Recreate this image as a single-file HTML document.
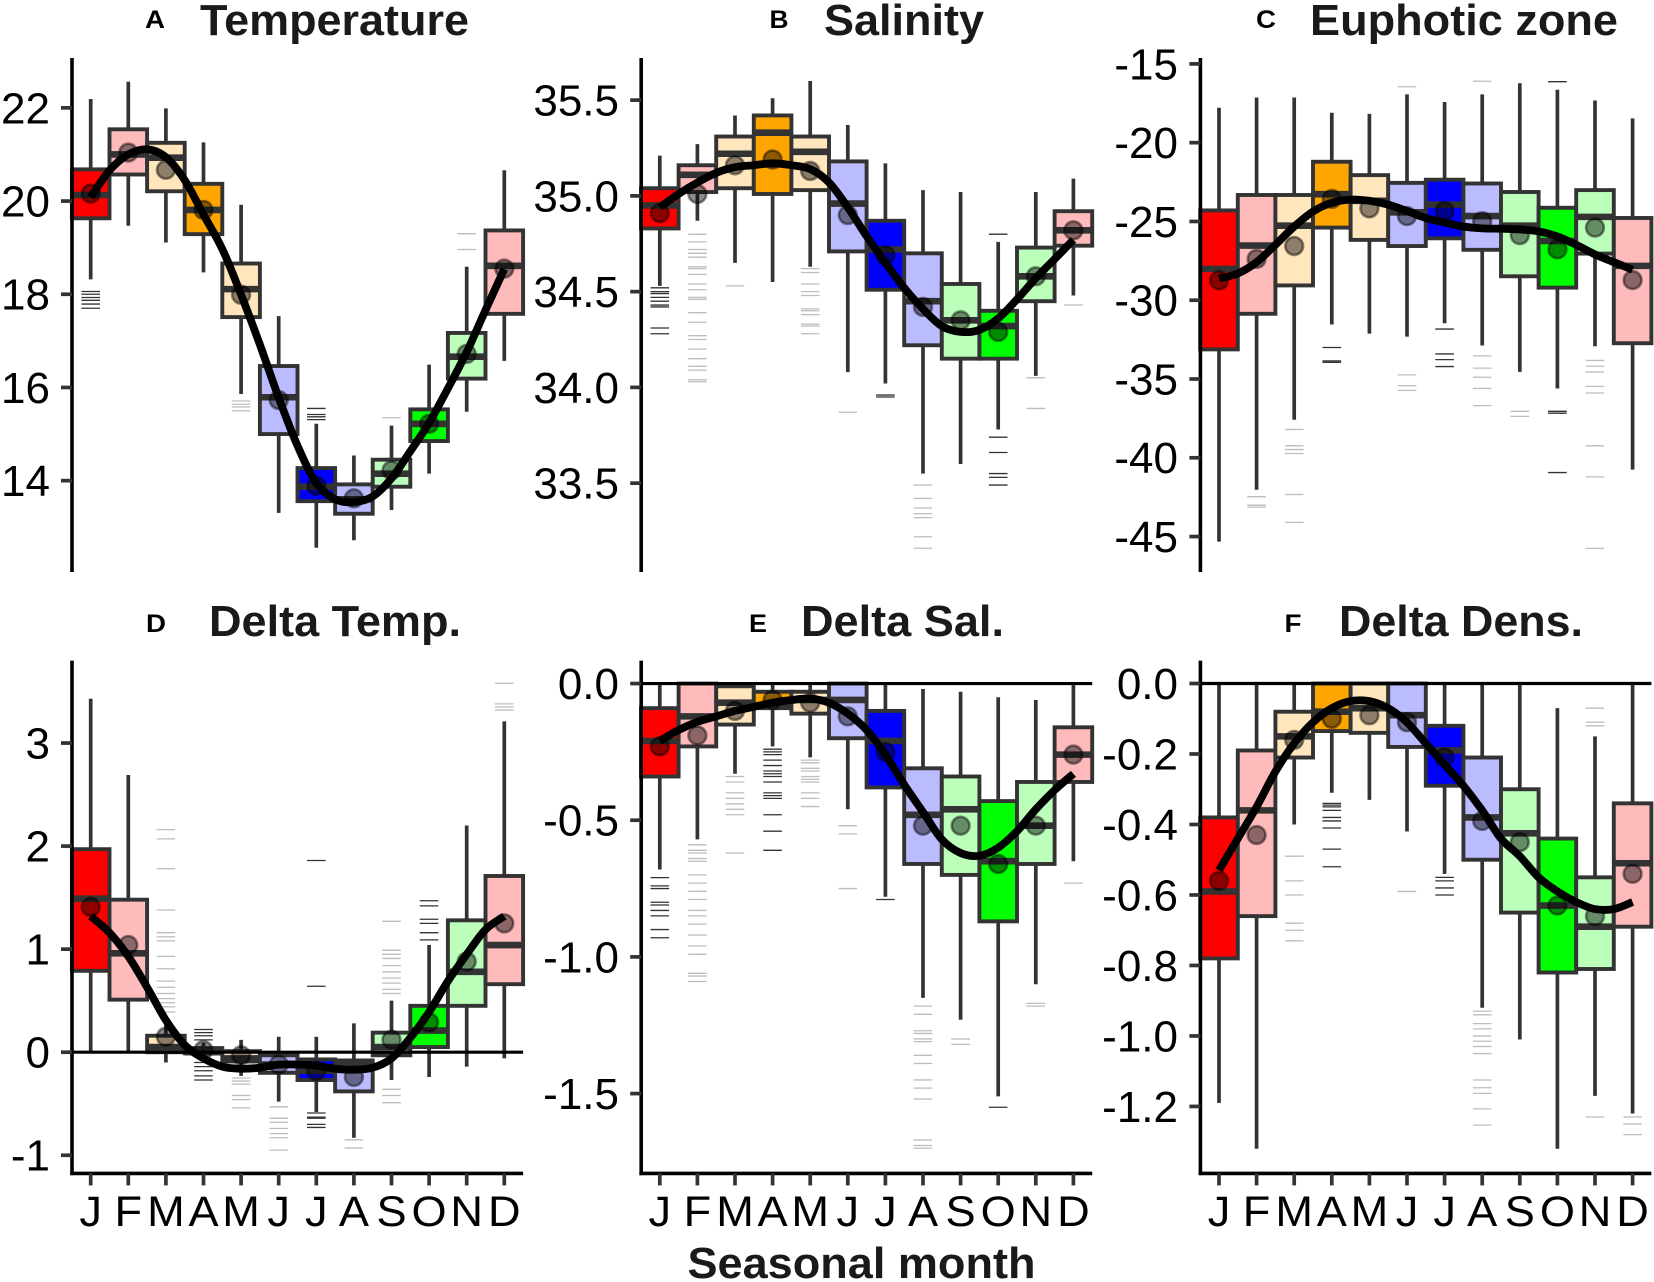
<!DOCTYPE html>
<html lang="en">
<head>
<meta charset="utf-8">
<title>Seasonal boxplots</title>
<style>
html,body{margin:0;padding:0;background:#fff;}
svg{display:block;font-family:"Liberation Sans",Arial,sans-serif;}
.title{font-weight:bold;font-size:44px;fill:#1a1a1a;text-anchor:middle;}
.tag{font-weight:bold;font-size:25px;fill:#000;text-anchor:middle;}
</style>
</head>
<body>
<svg id="chart" width="1654" height="1282" viewBox="0 0 1654 1282" xmlns="http://www.w3.org/2000/svg">
<text class="tag" x="155" y="28" textLength="20" lengthAdjust="spacingAndGlyphs">A</text>
<text class="title" x="334.5" y="35" textLength="269" lengthAdjust="spacingAndGlyphs">Temperature</text>
<text class="tag" x="779" y="28" textLength="19" lengthAdjust="spacingAndGlyphs">B</text>
<text class="title" x="904" y="35" textLength="160" lengthAdjust="spacingAndGlyphs">Salinity</text>
<text class="tag" x="1266" y="28" textLength="20" lengthAdjust="spacingAndGlyphs">C</text>
<text class="title" x="1464" y="35" textLength="308" lengthAdjust="spacingAndGlyphs">Euphotic zone</text>
<text class="tag" x="156" y="632" textLength="20" lengthAdjust="spacingAndGlyphs">D</text>
<text class="title" x="335" y="636" textLength="252" lengthAdjust="spacingAndGlyphs">Delta Temp.</text>
<text class="tag" x="758" y="632" textLength="18" lengthAdjust="spacingAndGlyphs">E</text>
<text class="title" x="902.5" y="636" textLength="203" lengthAdjust="spacingAndGlyphs">Delta Sal.</text>
<text class="tag" x="1293" y="632" textLength="17" lengthAdjust="spacingAndGlyphs">F</text>
<text class="title" x="1461" y="636" textLength="244" lengthAdjust="spacingAndGlyphs">Delta Dens.</text>
<text class="title" x="861.5" y="1278" textLength="348" lengthAdjust="spacingAndGlyphs">Seasonal month</text>
</svg>
<script>
const months=['J','F','M','A','M','J','J','A','S','O','N','D'];
const monthFills=['#ff0000','#ffbbbb','#ffe6bd','#ffa500','#ffe6bd','#bbbbff','#0000ff','#bbbbff','#bbffbb','#00ff00','#bbffbb','#ffbbbb'];

/* A: Temperature */
const tempTicks=[14,16,18,20,22];
const tempTickLabels=['14','16','18','20','22'];
const tempHi=[22.19,22.56,21.99,21.26,19.92,17.53,15.22,14.54,15.18,16.49,18.59,20.66];
const tempQ3=[20.68,21.54,21.25,20.37,18.66,16.46,14.27,13.92,14.45,15.53,17.17,19.37];
const tempMed=[20.13,21.0,20.93,19.81,18.11,15.79,13.87,13.6,14.15,15.22,16.66,18.61];
const tempQ1=[19.63,20.57,20.21,19.29,17.51,15.0,13.56,13.29,13.87,14.85,16.19,17.58];
const tempLo=[18.32,19.47,19.11,18.47,15.86,13.31,12.56,12.72,13.37,14.15,15.48,16.57];
const tempMean=[20.16,21.04,20.67,19.81,17.99,15.73,13.89,13.62,14.22,15.22,16.72,18.55];
const tempSmooth=[20.08,20.66,21.0,21.11,20.94,20.45,19.71,18.97,17.99,16.92,15.78,14.75,13.95,13.6,13.54,13.66,14.05,14.63,15.24,15.98,16.76,17.66,18.54];
const tempOutliers=[[18.06,18.0,17.93,17.87,17.79,17.7],[],[],[],[15.71,15.64,15.58,15.5],[],[15.55,15.42,15.37,15.31],[],[15.35],[],[19.3,18.96],[]];

/* B: Salinity */
const salTicks=[33.5,34,34.5,35,35.5];
const salTickLabels=['33.5','34.0','34.5','35.0','35.5'];
const salHi=[35.21,35.27,35.42,35.51,35.6,35.37,35.17,35.03,35.02,34.76,35.02,35.09];
const salQ3=[35.04,35.16,35.31,35.42,35.31,35.18,34.87,34.7,34.54,34.4,34.73,34.92];
const salMed=[34.95,35.11,35.22,35.33,35.23,34.96,34.72,34.45,34.35,34.32,34.58,34.82];
const salQ1=[34.83,35.02,35.04,35.01,35.03,34.71,34.51,34.22,34.15,34.15,34.45,34.74];
const salLo=[34.53,34.87,34.65,34.55,34.63,34.08,34.02,33.55,33.6,33.78,34.06,34.48];
const salMean=[34.91,35.01,35.16,35.19,35.13,34.9,34.69,34.42,34.35,34.29,34.58,34.82];
const salSmooth=[34.94,35.01,35.07,35.12,35.15,35.16,35.17,35.16,35.14,35.07,34.94,34.79,34.65,34.52,34.41,34.32,34.29,34.3,34.36,34.46,34.57,34.67,34.77];
const salOutliers=[[34.52,34.5,34.49,34.47,34.45,34.43,34.42,34.31,34.28],[34.8,34.76,34.72,34.7,34.68,34.63,34.62,34.59,34.54,34.51,34.47,34.46,34.39,34.34,34.27,34.25,34.2,34.15,34.11,34.09,34.04,34.03],[34.53],[],[34.62,34.6,34.54,34.5,34.48,34.41,34.4,34.38,34.33,34.32,34.28],[33.87],[33.96,33.95],[33.49,33.42,33.37,33.34,33.32,33.22,33.16],[],[34.8,33.74,33.66,33.55,33.53,33.49],[34.05,33.89],[34.43]];

/* C: Euphotic zone */
const euphTicks=[-45,-40,-35,-30,-25,-20,-15];
const euphTickLabels=['-45','-40','-35','-30','-25','-20','-15'];
const euphHi=[-17.78,-17.13,-17.13,-18.1,-18.17,-16.93,-17.42,-16.93,-16.23,-16.64,-17.32,-18.46];
const euphQ3=[-24.3,-23.32,-23.32,-21.21,-22.06,-22.55,-22.35,-22.59,-23.13,-24.13,-23.01,-24.78];
const euphMed=[-28.01,-26.53,-25.27,-23.27,-23.69,-24.42,-23.93,-24.66,-25.27,-26.24,-24.71,-27.82];
const euphQ1=[-33.12,-30.86,-29.06,-25.39,-26.17,-26.56,-26.07,-26.8,-28.48,-29.2,-27.04,-32.73];
const euphLo=[-45.32,-42.03,-37.59,-31.54,-32.12,-32.31,-31.46,-32.87,-34.55,-35.6,-32.92,-40.75];
const euphMean=[-28.74,-27.38,-26.56,-23.57,-24.17,-24.66,-24.34,-24.98,-25.87,-26.77,-25.39,-28.72];
const euphSmooth=[-28.62,-28.3,-27.58,-26.48,-25.32,-24.37,-23.81,-23.61,-23.69,-23.93,-24.34,-24.78,-25.07,-25.32,-25.44,-25.46,-25.51,-25.63,-25.95,-26.48,-27.09,-27.58,-28.06];
const euphOutliers=[[],[-42.47,-43.01,-43.13],[-38.2,-39.24,-39.48,-39.73,-42.33,-44.1],[-33,-33.85,-33.94],[],[-16.45,-34.74,-35.43,-35.72],[-31.83,-33.41,-33.77,-34.21],[-16.1,-33.53,-34.31,-34.89,-35.6,-36.69],[-37.05,-37.37],[-16.13,-37.05,-37.17,-40.94],[-33.82,-34.19,-34.55,-35.47,-35.89,-39.24,-41.21,-45.75],[]];

/* D: Delta Temp. */
const dtTicks=[-1,0,1,2,3];
const dtTickLabels=['-1','0','1','2','3'];
const dtHi=[3.43,2.69,0.27,0.09,0.12,0.15,0.15,0.28,0.5,1.04,2.2,3.21];
const dtQ3=[1.97,1.48,0.16,0.04,0.01,-0.03,-0.07,-0.08,0.19,0.45,1.28,1.71];
const dtMed=[1.49,0.96,0.05,0,-0.06,-0.12,-0.18,-0.12,0.05,0.21,0.78,1.04];
const dtQ1=[0.79,0.51,0,-0.01,-0.09,-0.2,-0.27,-0.38,-0.03,0.05,0.45,0.66];
const dtLo=[0,0,-0.1,-0.08,-0.23,-0.48,-0.58,-0.83,-0.27,-0.24,-0.14,-0.06];
const dtMean=[1.41,1.04,0.15,0.02,-0.03,-0.12,-0.18,-0.24,0.12,0.29,0.88,1.25];
const dtSmooth=[1.32,1.16,0.93,0.63,0.31,0.07,-0.06,-0.14,-0.16,-0.15,-0.12,-0.12,-0.13,-0.16,-0.17,-0.15,-0.06,0.14,0.39,0.69,0.95,1.19,1.32];
const dtOutliers=[[],[],[2.16,2.07,1.78,1.38,1.16,1.12,1.08,0.93,0.81,0.69,0.63,0.57,0.52,0.48,0.44,0.39],[0.22,0.19,0.16,0.12,-0.1,-0.14,-0.18,-0.23,-0.27],[-0.25,-0.28,-0.31,-0.42,-0.46,-0.54],[-0.53,-0.64,-0.68,-0.74,-0.79,-0.83,-0.95],[1.86,0.64,-0.59,-0.63,-0.64,-0.7,-0.73],[-0.85,-0.93],[1.27,0.99,0.95,0.91,0.84,0.78,0.72,0.67,0.61,0.57,-0.36,-0.42,-0.49],[1.47,1.42,1.29,1.25,1.16,1.09],[],[3.58,3.38,3.35,3.32]];

/* E: Delta Sal. */
const dsTicks=[-1.5,-1,-0.5,0];
const dsTickLabels=['-1.5','-1.0','-0.5','0.0'];
const dsHi=[0,0,0,0,0,0,0,-0.02,-0.03,-0.05,-0.06,0];
const dsQ3=[-0.09,0,-0.01,-0.03,-0.03,0,-0.1,-0.31,-0.34,-0.43,-0.36,-0.16];
const dsMed=[-0.21,-0.12,-0.07,-0.08,-0.06,-0.06,-0.21,-0.48,-0.46,-0.65,-0.52,-0.26];
const dsQ1=[-0.34,-0.23,-0.15,-0.09,-0.11,-0.2,-0.38,-0.66,-0.7,-0.87,-0.66,-0.36];
const dsLo=[-0.68,-0.57,-0.33,-0.23,-0.27,-0.46,-0.78,-1.15,-1.23,-1.51,-1.1,-0.65];
const dsMean=[-0.23,-0.19,-0.1,-0.06,-0.07,-0.12,-0.25,-0.52,-0.52,-0.66,-0.52,-0.26];
const dsSmooth=[-0.21,-0.17,-0.14,-0.12,-0.1,-0.085,-0.07,-0.06,-0.055,-0.07,-0.11,-0.17,-0.26,-0.37,-0.47,-0.57,-0.62,-0.63,-0.6,-0.54,-0.46,-0.39,-0.33];
const dsOutliers=[[-0.71,-0.74,-0.75,-0.8,-0.81,-0.83,-0.85,-0.9,-0.93],[-0.59,-0.61,-0.62,-0.64,-0.65,-0.7,-0.73,-0.76,-0.79,-0.83,-0.85,-0.88,-0.92,-0.96,-0.99,-1.06,-1.07,-1.09],[-0.34,-0.36,-0.4,-0.42,-0.44,-0.46,-0.48,-0.62],[-0.24,-0.25,-0.26,-0.28,-0.3,-0.32,-0.33,-0.34,-0.36,-0.4,-0.41,-0.42,-0.48,-0.54,-0.61],[-0.28,-0.29,-0.31,-0.32,-0.34,-0.35,-0.36,-0.4,-0.42,-0.45],[-0.52,-0.55,-0.75],[-0.79],[-1.18,-1.21,-1.27,-1.28,-1.3,-1.31,-1.36,-1.39,-1.45,-1.48,-1.52,-1.67,-1.69,-1.7],[-1.3,-1.32],[-1.55],[-1.17,-1.18],[-0.73]];

/* F: Delta Dens. */
const ddTicks=[-1.2,-1,-0.8,-0.6,-0.4,-0.2,0];
const ddTickLabels=['-1.2','-1.0','-0.8','-0.6','-0.4','-0.2','0.0'];
const ddHi=[0,0,0,0,0,0,0,0,0,-0.07,-0.15,0];
const ddQ3=[-0.38,-0.19,-0.08,0,0,0,-0.12,-0.21,-0.3,-0.44,-0.55,-0.34];
const ddMed=[-0.59,-0.36,-0.15,-0.08,-0.07,-0.09,-0.19,-0.38,-0.425,-0.63,-0.69,-0.51];
const ddQ1=[-0.78,-0.66,-0.21,-0.135,-0.14,-0.18,-0.29,-0.5,-0.65,-0.82,-0.81,-0.69];
const ddLo=[-1.19,-1.32,-0.4,-0.31,-0.33,-0.42,-0.54,-0.92,-1.01,-1.32,-1.17,-1.22];
const ddMean=[-0.56,-0.43,-0.16,-0.1,-0.09,-0.11,-0.21,-0.39,-0.45,-0.63,-0.66,-0.54];
const ddSmooth=[-0.53,-0.44,-0.35,-0.25,-0.17,-0.11,-0.07,-0.05,-0.05,-0.07,-0.11,-0.17,-0.23,-0.29,-0.36,-0.44,-0.49,-0.55,-0.59,-0.62,-0.64,-0.64,-0.62];
const ddOutliers=[[],[],[-0.49,-0.56,-0.6,-0.68,-0.7,-0.73],[-0.34,-0.345,-0.35,-0.36,-0.38,-0.39,-0.41,-0.47,-0.52],[],[-0.59],[-0.55,-0.56,-0.58,-0.6],[-0.93,-0.94,-0.965,-0.98,-1,-1.015,-1.03,-1.05,-1.125,-1.147,-1.163,-1.207,-1.253],[],[],[-0.07,-0.11,-0.12,-1.23],[-1.23,-1.25,-1.28]];

const TOP_ROW={top:58,bottom:572};
const BOTTOM_ROW={top:660.6,bottom:1173.4};
const panels=[
 {key:'temperature',row:TOP_ROW,axisX:72,firstX:90.7,labelRight:50,domain:[12.04,23.07],ticks:tempTicks,labels:tempTickLabels,hi:tempHi,q3:tempQ3,med:tempMed,q1:tempQ1,lo:tempLo,mean:tempMean,smooth:tempSmooth,out:tempOutliers,xAxis:false,zero:false},
 {key:'salinity',row:TOP_ROW,axisX:641.2,firstX:659.8,labelRight:619,domain:[33.036,35.72],ticks:salTicks,labels:salTickLabels,hi:salHi,q3:salQ3,med:salMed,q1:salQ1,lo:salLo,mean:salMean,smooth:salSmooth,out:salOutliers,xAxis:false,zero:false},
 {key:'euphotic-zone',row:TOP_ROW,axisX:1200.4,firstX:1219,labelRight:1178,domain:[-47.25,-14.625],ticks:euphTicks,labels:euphTickLabels,hi:euphHi,q3:euphQ3,med:euphMed,q1:euphQ1,lo:euphLo,mean:euphMean,smooth:euphSmooth,out:euphOutliers,xAxis:false,zero:false},
 {key:'delta-temp',row:BOTTOM_ROW,axisX:72,firstX:90.7,labelRight:50,domain:[-1.176,3.80],ticks:dtTicks,labels:dtTickLabels,hi:dtHi,q3:dtQ3,med:dtMed,q1:dtQ1,lo:dtLo,mean:dtMean,smooth:dtSmooth,out:dtOutliers,xAxis:true,zero:true},
 {key:'delta-sal',row:BOTTOM_ROW,axisX:641.2,firstX:659.8,labelRight:619,domain:[-1.792,0.084],ticks:dsTicks,labels:dsTickLabels,hi:dsHi,q3:dsQ3,med:dsMed,q1:dsQ1,lo:dsLo,mean:dsMean,smooth:dsSmooth,out:dsOutliers,xAxis:true,zero:true},
 {key:'delta-dens',row:BOTTOM_ROW,axisX:1200.4,firstX:1219,labelRight:1178,domain:[-1.390,0.065],ticks:ddTicks,labels:ddTickLabels,hi:ddHi,q3:ddQ3,med:ddMed,q1:ddQ1,lo:ddLo,mean:ddMean,smooth:ddSmooth,out:ddOutliers,xAxis:true,zero:true}
];

const NS='http://www.w3.org/2000/svg';
const root=document.getElementById('chart');
const STEP=37.6, HALF=18.8, DARK='#333333';
const SATURATED=[0,3,6,9];

function make(parent,tag,attrs){
  const e=document.createElementNS(NS,tag);
  for(const k in attrs)e.setAttribute(k,attrs[k]);
  parent.appendChild(e);
  return e;
}
function smoothPath(pts){
  let d='M'+pts[0][0].toFixed(1)+' '+pts[0][1].toFixed(1);
  for(let i=0;i<pts.length-1;i++){
    const p0=pts[Math.max(0,i-1)],p1=pts[i],p2=pts[i+1],p3=pts[Math.min(pts.length-1,i+2)];
    const c1x=p1[0]+(p2[0]-p0[0])/6,c1y=p1[1]+(p2[1]-p0[1])/6;
    const c2x=p2[0]-(p3[0]-p1[0])/6,c2y=p2[1]-(p3[1]-p1[1])/6;
    d+='C'+c1x.toFixed(1)+' '+c1y.toFixed(1)+' '+c2x.toFixed(1)+' '+c2y.toFixed(1)+' '+p2[0].toFixed(1)+' '+p2[1].toFixed(1);
  }
  return d;
}

panels.forEach(function(p){
  const k=(p.row.bottom-p.row.top)/(p.domain[1]-p.domain[0]);
  const yScale=function(v){return p.row.bottom-(v-p.domain[0])*k;};
  const xScale=function(i){return p.firstX+i*STEP;};
  const g=make(root,'g',{});
  
  

  months.forEach(function(m,i){
    const x=xScale(i);
    const box=make(g,'g',{});
    
    
    const whisker=make(box,'line',{x1:x,x2:x,y1:yScale(p.hi[i]),y2:yScale(p.lo[i]),stroke:DARK,'stroke-width':3.7});
    
    
    const dark=SATURATED.indexOf(i)>=0;
    p.out[i].forEach(function(v){
      const o=make(box,'line',{x1:x-9.3,x2:x+9.3,y1:yScale(v),y2:yScale(v),stroke:dark?'#333333':'#bdbdbd','stroke-width':1.3});
      
      
    });
    const yTop=yScale(p.q3[i]),yBot=yScale(p.q1[i]);
    const rect=make(box,'rect',{x:x-HALF,y:yTop,width:HALF*2,height:Math.max(0,yBot-yTop),fill:monthFills[i],stroke:DARK,'stroke-width':3.9});
    
    
    const med=make(box,'line',{x1:x-HALF,x2:x+HALF,y1:yScale(p.med[i]),y2:yScale(p.med[i]),stroke:DARK,'stroke-width':6.6});
    
    
  });

  if(p.zero){
    const endX=xScale(11)+HALF;
    const z=make(g,'line',{x1:p.axisX,x2:endX,y1:yScale(0),y2:yScale(0),stroke:'#000','stroke-width':3.2});
    
    
  }

  p.mean.forEach(function(v,i){
    const c=make(g,'circle',{cx:xScale(i),cy:yScale(v),r:8.9,fill:'#000','fill-opacity':0.45,stroke:'#000','stroke-opacity':0.45,'stroke-width':2.6});
    
    
  });

  const pts=p.smooth.map(function(v,j){return [xScale(j/2),yScale(v)];});
  const line=make(g,'path',{d:smoothPath(pts),fill:'none',stroke:'#000','stroke-width':7.8});
  
  

  const yAxis=make(g,'line',{x1:p.axisX,x2:p.axisX,y1:p.row.top,y2:p.row.bottom+(p.xAxis?1.7:0),stroke:'#000','stroke-width':3.6});
  
  

  p.ticks.forEach(function(v,i){
    const y=yScale(v);
    const t=make(g,'line',{x1:p.axisX-11,x2:p.axisX,y1:y,y2:y,stroke:DARK,'stroke-width':3.7});
    
    
    const lab=make(g,'text',{x:p.labelRight,y:y+15.4,'font-size':44,'text-anchor':'end',fill:'#000'});
    lab.textContent=p.labels[i];
    
    
  });

  if(p.xAxis){
    const xAxis=make(g,'line',{x1:p.axisX-1.8,x2:xScale(11)+HALF,y1:p.row.bottom,y2:p.row.bottom,stroke:'#000','stroke-width':3.6});
    
    
    months.forEach(function(m,i){
      const x=xScale(i);
      const t=make(g,'line',{x1:x,x2:x,y1:p.row.bottom,y2:p.row.bottom+12,stroke:DARK,'stroke-width':3.7});
      
      
      const lab=make(g,'text',{transform:'translate('+x+' 1226) scale(1.05 1)','font-size':43,'text-anchor':'middle',fill:'#000'});
      lab.textContent=m;
      
      
    });
  }
});
</script>
</body>
</html>
